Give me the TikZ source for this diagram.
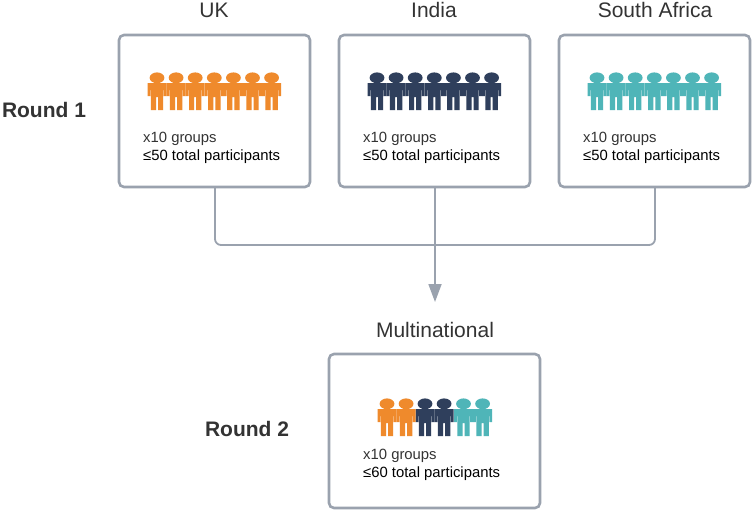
\documentclass[tikz,border=0pt]{standalone}
\usepackage{fontspec}
\setmainfont{Liberation Sans}
\usetikzlibrary{arrows.meta}
\definecolor{frame}{HTML}{9AA2AE}
\definecolor{ukc}{HTML}{EF8A2C}
\definecolor{inc}{HTML}{2F3F5C}
\definecolor{sac}{HTML}{4FB5B8}
\definecolor{txt}{HTML}{333333}
\newcommand{\person}[3]{%
  \fill[#3] (#1,#2-5.2) ellipse [x radius=7.4, y radius=5.4];
  \fill[#3] (#1-9.5,#2) -- (#1+9.5,#2) -- (#1+9.5,#2+13) -- (#1+6.7,#2+13) -- (#1+6.7,#2+7) -- (#1+6.2,#2+7)
    -- (#1+6.2,#2+27) -- (#1+1,#2+27) -- (#1+1,#2+14) -- (#1-1,#2+14) -- (#1-1,#2+27) -- (#1-6.2,#2+27)
    -- (#1-6.2,#2+7) -- (#1-6.7,#2+7) -- (#1-6.7,#2+13) -- (#1-9.5,#2+13) -- cycle;}
\tikzset{
  panel/.style={draw=frame, line width=2.6pt, rounded corners=5pt, fill=white, minimum width=#1, inner sep=0pt},
  title/.style={font=\fontsize{21}{24}\selectfont, text=txt, anchor=base},
  rowlabel/.style={font=\bfseries\fontsize{21}{25}\selectfont, text=txt, anchor=base},
  caption/.style={font=\fontsize{14.85}{18}\selectfont, align=left, anchor=north west, inner sep=0pt},
  link/.style={draw=frame, line width=1.8pt, rounded corners=6pt},
}
\begin{document}
\begin{tikzpicture}[x=1pt,y=-1pt]
\useasboundingbox (0,0) rectangle (755,512);
\node[panel=191pt, minimum height=152pt] (uk) at (214.5,111) {};
\node[panel=191pt, minimum height=152pt] (india) at (434.5,111) {};
\node[panel=191pt, minimum height=152pt] (sa) at (654.5,111) {};
\node[panel=211pt, minimum height=154pt] (multi) at (434.5,431) {};
\coordinate (junction) at (435,245);
\coordinate (ukdrop) at (215,187);
\coordinate (indiadrop) at (435,187);
\coordinate (sadrop) at (655,187);
\coordinate (arrowend) at (435,302);
\draw[link] (ukdrop) -- (215,245) -- (junction);
\draw[link] (sadrop) -- (655,245) -- (junction);
\draw[link, rounded corners=0pt, -{Triangle[length=18pt,width=13pt]}] (indiadrop) -- (arrowend);
\foreach \i in {0,...,6} {
  \person{157+19.1*\i}{83}{ukc}
  \person{377+19.1*\i}{83}{inc}
  \person{597+19.1*\i}{83}{sac}
}
\foreach \i in {0,1} {
  \person{387+19.1*\i}{409}{ukc}
  \person{425+19.1*\i}{409}{inc}
  \person{463.5+19.1*\i}{409}{sac}
}
\node[title] (t1) at (214,17) {UK};
\node[title] (t2) at (434,17) {India};
\node[title] (t3) at (655,17) {South Africa};
\node[title] (t4) at (435,337) {Multinational};
\node[rowlabel] (r1) at (44,117) {Round 1};
\node[rowlabel] (r2) at (247,436) {Round 2};
\node[caption] (c1) at (143,131.5) {\textcolor{txt}{x10 groups}\\≤50 total participants};
\node[caption] (c2) at (363,131.5) {\textcolor{txt}{x10 groups}\\≤50 total participants};
\node[caption] (c3) at (583,131.5) {\textcolor{txt}{x10 groups}\\≤50 total participants};
\node[caption] (c4) at (363,448.5) {\textcolor{txt}{x10 groups}\\≤60 total participants};
\end{tikzpicture}
\end{document}
